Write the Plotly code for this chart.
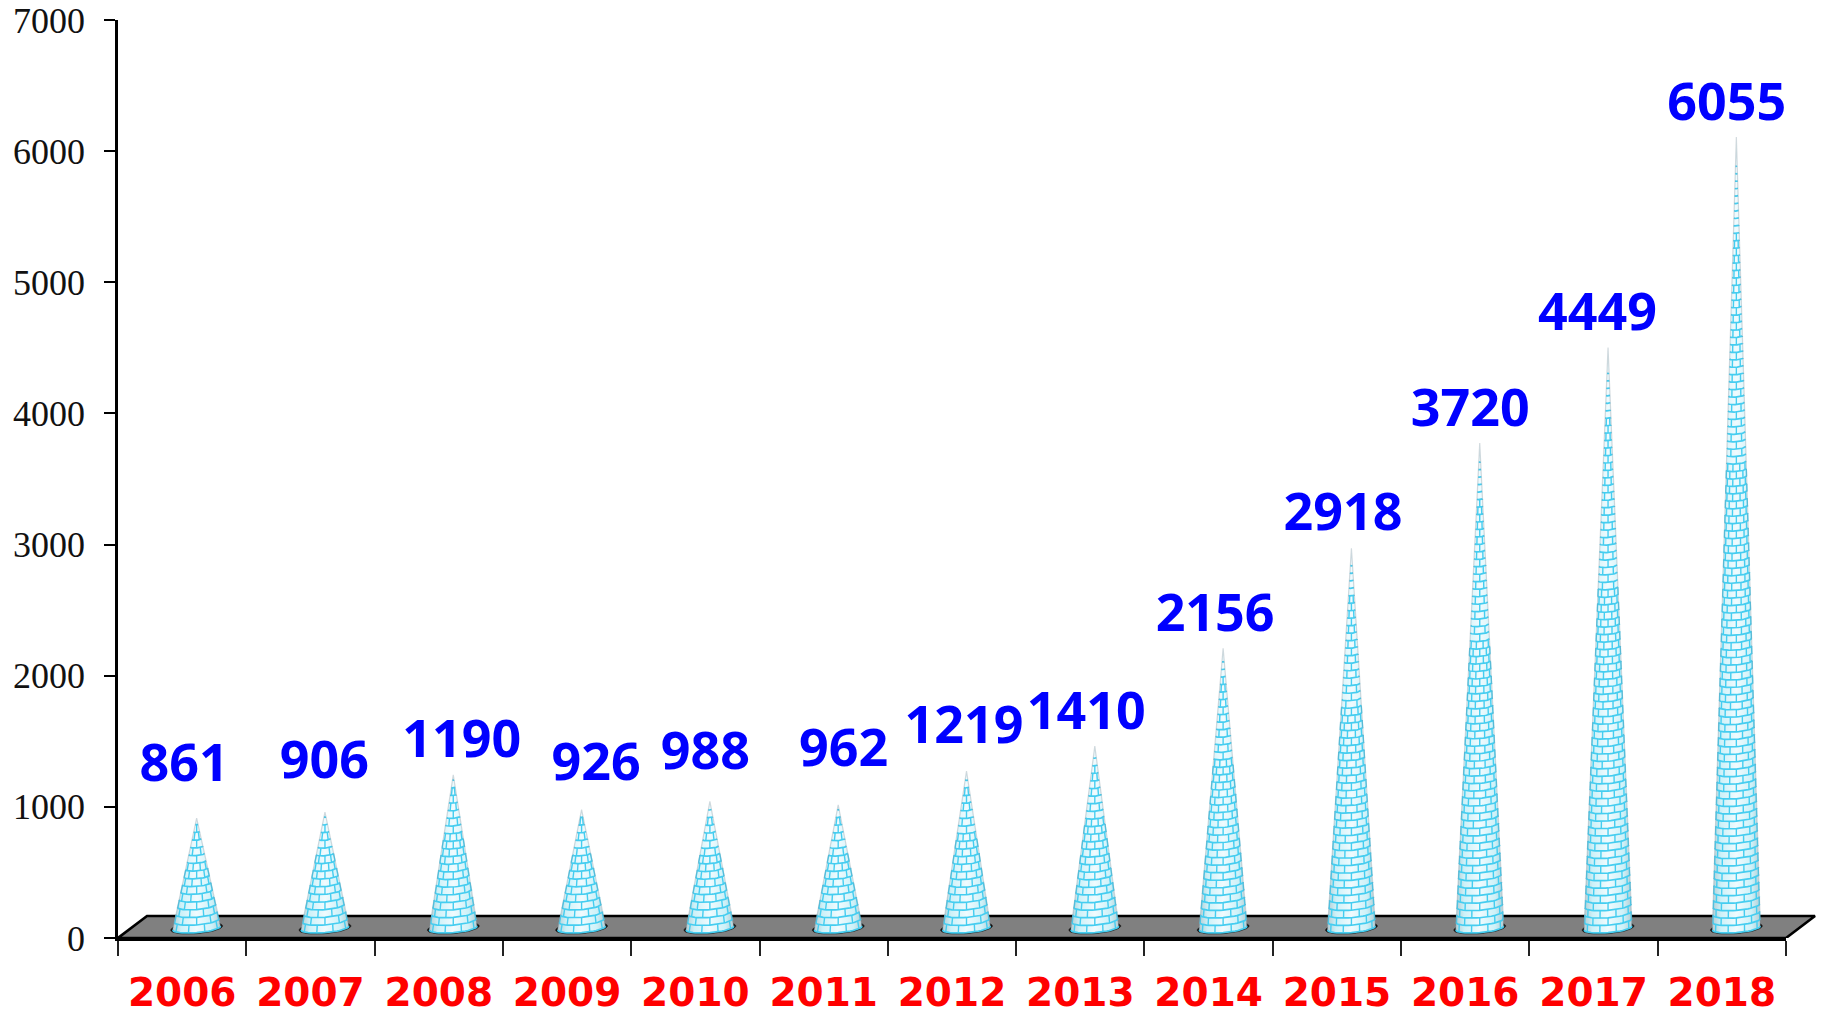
import numpy as np
import plotly.graph_objects as go

years = ["2006", "2007", "2008", "2009", "2010", "2011", "2012", "2013", "2014", "2015", "2016", "2017", "2018"]
values = [861, 906, 1190, 926, 988, 962, 1219, 1410, 2156, 2918, 3720, 4449, 6055]
y_ticks = [0, 1000, 2000, 3000, 4000, 5000, 6000, 7000]
label_shift_x = [2, 14, 23, 29, 10, 20, 12, 6, 6.5, 6, 5, 4, 5]
label_shift_y = [57, 54, 38, 50, 52, 59, 48, 37, 37, 38, 37, 38, 37]

W, H = 1830, 1015
L, R_AXIS, R_FLOOR, T, B = 118, 1786, 1816, 19.5, 938
PX_X = 13 / (R_AXIS - L)          # category units per pixel
PX_Y = 7000 / (B - T)             # value units per pixel
BASE_R, BASE_B, TILT = 24, 4.7, 0.08
SHIFT_X, SHIFT_Y = 14.5, 10
DEPTH_X, DEPTH_Y = 29, 22
ROW_PITCH = 7.4
TIP_FADE = 3
CYAN = "#45cdf0"

fig = go.Figure()
fig.add_trace(go.Scatter(x=years, y=values, mode="markers", marker=dict(opacity=0),
                         hoverinfo="skip", showlegend=False))


def add2(**kw):
    fig.add_trace(go.Scatter(xaxis="x2", yaxis="y", hoverinfo="skip", showlegend=False, **kw))


# floor
fx0, fx1 = -0.5, 12.5
add2(x=[fx0, fx1, fx1 + DEPTH_X * PX_X, fx0 + DEPTH_X * PX_X, fx0],
     y=[0, 0, DEPTH_Y * PX_Y, DEPTH_Y * PX_Y, 0],
     mode="lines", fill="toself", fillcolor="#808080", line=dict(color="#000000", width=2.6))


def ring(c, height_px, t, th):
    r = BASE_R * (1 - t)
    b = BASE_B * (1 - t)
    px = r * np.sin(th)
    py = t * height_px - b * np.cos(th) + TILT * px
    return c + px * PX_X, (py + SHIFT_Y) * PX_Y


TH = np.linspace(-np.pi / 2, np.pi / 2, 25)
for i, v in enumerate(values):
    c = i + SHIFT_X * PX_X
    hp = v / PX_Y - TIP_FADE
    # dark base ellipse
    a = np.linspace(0, 2 * np.pi, 50)
    ex = (BASE_R + 2) * np.sin(a)
    ey = (BASE_B + 1) * np.cos(a) + TILT * ex
    add2(x=list(c + ex * PX_X), y=list((ey + SHIFT_Y) * PX_Y), mode="lines", fill="toself",
         fillcolor="#111111", line=dict(color="#111111", width=0.5))
    # body
    bx, by = ring(c, hp, 0, TH[::-1])
    add2(x=[c] + list(bx) + [c], y=[(hp + SHIFT_Y) * PX_Y] + list(by) + [(hp + SHIFT_Y) * PX_Y],
         mode="lines", line=dict(width=0, color="rgba(0,0,0,0)"), fill="toself",
         fillgradient=dict(type="horizontal", start=c - BASE_R * PX_X, stop=c + BASE_R * PX_X,
                           colorscale=[[0, "#b5ccd2"], [0.18, "#cdf1f8"], [0.5, "#f0fbfe"],
                                       [0.82, "#cdf1f8"], [1, "#b5ccd2"]]))
    # brick rows and joints
    n = int(hp // ROW_PITCH)
    rx, ry, jx, jy = [], [], [], []
    for k in range(n + 1):
        t0 = k * ROW_PITCH / hp
        t1 = min(1, (k + 1) * ROW_PITCH / hp)
        radius = BASE_R * (1 - t0)
        if radius < 0.8:
            continue
        x, y = ring(c, hp, t0, TH)
        rx += list(x) + [None]
        ry += list(y) + [None]
        if radius >= 10:
            angles = [-60, -20, 20, 60] if k % 2 == 0 else [-80, -40, 0, 40, 80]
        elif radius >= 3:
            angles = [-35, 35] if k % 2 == 0 else [0]
        else:
            angles = []
        for d in angles:
            th = np.radians(d)
            x0, y0 = ring(c, hp, t0, th)
            x1, y1 = ring(c, hp, t1, th)
            jx += [x0, x1, None]
            jy += [y0, y1, None]
    add2(x=jx, y=jy, mode="lines", line=dict(color=CYAN, width=1.4))
    add2(x=rx, y=ry, mode="lines", line=dict(color=CYAN, width=1.7))
    # soft shaded edges
    lx, ly = ring(c, hp, 0, -np.pi / 2)
    rx0, ry0 = ring(c, hp, 0, np.pi / 2)
    add2(x=[lx, c, rx0], y=[ly, (hp + SHIFT_Y) * PX_Y, ry0], mode="lines",
         line=dict(color="rgba(130,150,160,0.35)", width=1.2))

# value labels
add2(x=[i + sx * PX_X for i, sx in enumerate(label_shift_x)],
     y=[v + sy * PX_Y for v, sy in zip(values, label_shift_y)],
     mode="text", text=[str(v) for v in values], textposition="middle center", cliponaxis=False,
     textfont=dict(family="Noto Sans", size=52, color="#0000ff", weight="bold"))

fig.update_layout(
    width=W, height=H, autosize=False,
    margin=dict(l=L, r=W - R_FLOOR, t=T, b=H - B, pad=0),
    paper_bgcolor="white", plot_bgcolor="rgba(0,0,0,0)", showlegend=False,
    xaxis=dict(type="category", categoryorder="array", categoryarray=years, automargin=False,
               domain=[0, (R_AXIS - L) / (R_FLOOR - L)], range=[-0.5, 12.5], anchor="y",
               tickson="boundaries", ticks="outside", ticklen=15, tickwidth=1.5, tickcolor="#222222",
               showgrid=False, zeroline=False, showline=True, linecolor="#000000", linewidth=2.6,
               tickangle=0, ticklabelstandoff=18,
               tickfont=dict(family="DejaVu Sans", size=39, color="#ff0000", weight="bold")),
    xaxis2=dict(anchor="y", domain=[0, 1], visible=False,
                range=[-0.5, -0.5 + (R_FLOOR - L) * PX_X]),
    yaxis=dict(range=[0, 7000], tickvals=y_ticks, ticks="outside", ticklen=11, tickwidth=1.5, automargin=False,
               tickcolor="#000000", showgrid=False, zeroline=False, showline=True,
               linecolor="#000000", linewidth=2.6, ticklabelstandoff=12,
               tickfont=dict(family="Liberation Serif", size=36, color="#111111")),
)

fig.write_html("out.html", config=dict(displayModeBar=False),
               post_script="document.body.style.margin='0';document.body.style.overflow='hidden';")
